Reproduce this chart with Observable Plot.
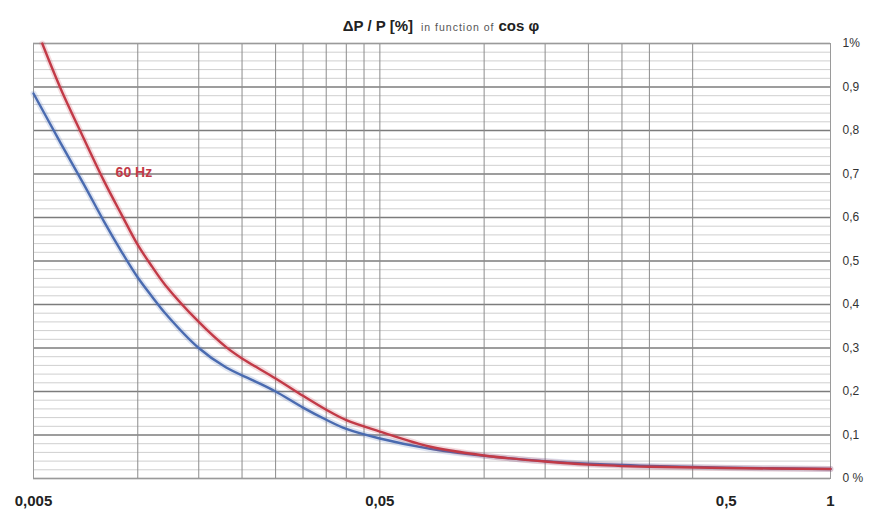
<!DOCTYPE html>
<html>
<head>
<meta charset="utf-8">
<script src="https://cdn.jsdelivr.net/npm/d3@7"></script>
<script src="https://cdn.jsdelivr.net/npm/@observablehq/plot@0.6"></script>
<style>
  html, body { margin: 0; padding: 0; background: #fff; }
  #wrap { position: relative; width: 882px; height: 524px; }
  #title { position: absolute; left: 0; top: 17px; width: 882px; text-align: center;
           font-family: "Liberation Sans", Arial, sans-serif; color: #222; white-space: nowrap; }
  #title .big { font-size: 15px; font-weight: bold; }
  #title .small { font-size: 10.5px; letter-spacing: 1px; color: #555; margin: 0 4px 0 8px; }
</style>
</head>
<body>
<div id="wrap">
  <div id="chart"></div>
  <div id="title"><span class="big">ΔP / P [%]</span><span class="small">in function of</span><span class="big">cos φ</span></div>
</div>
<script>
// cos φ values (x) and ΔP/P [%] values (y)
const redX  = [0.0053, 0.006, 0.007, 0.008, 0.009, 0.01, 0.011, 0.012, 0.015, 0.018, 0.02, 0.025, 0.03, 0.035, 0.04, 0.05, 0.07, 0.1, 0.15, 0.2, 0.3, 0.5, 1];
const redY  = [1.0, 0.895, 0.78, 0.683, 0.605, 0.537, 0.487, 0.445, 0.36, 0.302, 0.276, 0.23, 0.19, 0.158, 0.134, 0.108, 0.073, 0.053, 0.039, 0.032, 0.027, 0.024, 0.022];
const blueX = [0.005, 0.006, 0.007, 0.008, 0.009, 0.01, 0.011, 0.012, 0.015, 0.018, 0.0216, 0.025, 0.03, 0.035, 0.04, 0.05, 0.07, 0.1, 0.15, 0.2, 0.3, 0.5, 1];
const blueY = [0.885, 0.77, 0.675, 0.59, 0.52, 0.462, 0.418, 0.38, 0.3, 0.255, 0.225, 0.2, 0.163, 0.135, 0.114, 0.092, 0.068, 0.052, 0.04, 0.034, 0.029, 0.025, 0.022];

// tick labels and grid
const xTicks = [0.005, 0.05, 0.5, 1];
const xTickLabels = ["0,005", "0,05", "0,5", "1"];
const yTicks = [0, 0.1, 0.2, 0.3, 0.4, 0.5, 0.6, 0.7, 0.8, 0.9, 1];
const yTickLabels = ["0 %", "0,1", "0,2", "0,3", "0,4", "0,5", "0,6", "0,7", "0,8", "0,9", "1%"];
const xGrid = [0.01, 0.015, 0.02, 0.025, 0.03, 0.035, 0.04, 0.045, 0.05, 0.1, 0.15, 0.2, 0.25, 0.3, 0.4];
const yMinor = [0.02, 0.04, 0.06, 0.08, 0.12, 0.14, 0.16, 0.18, 0.22, 0.24, 0.26, 0.28, 0.32, 0.34, 0.36, 0.38,
                0.42, 0.44, 0.46, 0.48, 0.52, 0.54, 0.56, 0.58, 0.62, 0.64, 0.66, 0.68, 0.72, 0.74, 0.76, 0.78,
                0.82, 0.84, 0.86, 0.88, 0.92, 0.94, 0.96, 0.98];

// label
const seriesLabel = ["60 Hz"];
const labelX = [0.00863];
const labelY = [0.703];

const red = redX.map((x, i) => ({x, y: redY[i]}));
const blue = blueX.map((x, i) => ({x, y: blueY[i]}));
const labels = seriesLabel.map((t, i) => ({t, x: labelX[i], y: labelY[i]}));
const xLab = xTicks.map((x, i) => ({x, t: xTickLabels[i]}));
const yLab = yTicks.map((y, i) => ({y, t: yTickLabels[i]}));

const redColor = "#c23a47";
const blueColor = "#4a6bb0";

const chart = Plot.plot({
  width: 882,
  height: 524,
  marginLeft: 33,
  marginRight: 52,
  marginTop: 43,
  marginBottom: 46,
  style: {fontFamily: "'Liberation Sans', Arial, sans-serif", background: "#fff", color: "#222"},
  x: {type: "log", domain: [0.005, 1], axis: null},
  y: {domain: [0, 1], axis: null},
  marks: [
    Plot.ruleY(yMinor, {stroke: "#cfcfcf", strokeWidth: 1}),
    Plot.ruleY(yTicks, {stroke: "#7c7c7c", strokeWidth: 1.3}),
    Plot.ruleX(xGrid, {stroke: "#8c8c8c", strokeWidth: 1}),
    Plot.frame({stroke: "#9a9a9a"}),
    Plot.text(yLab, {y: "y", text: "t", frameAnchor: "right", dx: 12, textAnchor: "start", fontSize: 12, fill: "#333"}),
    Plot.text(xLab, {x: "x", text: "t", frameAnchor: "bottom", dy: 27, fontSize: 15, fontWeight: "bold", fill: "#222"}),
    Plot.line(blue, {x: "x", y: "y", stroke: blueColor, strokeOpacity: 0.18, strokeWidth: 6, curve: "catmull-rom"}),
    Plot.line(blue, {x: "x", y: "y", stroke: blueColor, strokeWidth: 2.4, curve: "catmull-rom"}),
    Plot.line(red, {x: "x", y: "y", stroke: redColor, strokeOpacity: 0.18, strokeWidth: 6, curve: "catmull-rom"}),
    Plot.line(red, {x: "x", y: "y", stroke: redColor, strokeWidth: 2.4, curve: "catmull-rom"}),
    Plot.text(labels, {x: "x", y: "y", text: "t", textAnchor: "start", fill: redColor, fontSize: 14, fontWeight: "bold"})
  ]
});
document.getElementById("chart").appendChild(chart);
</script>
</body>
</html>
